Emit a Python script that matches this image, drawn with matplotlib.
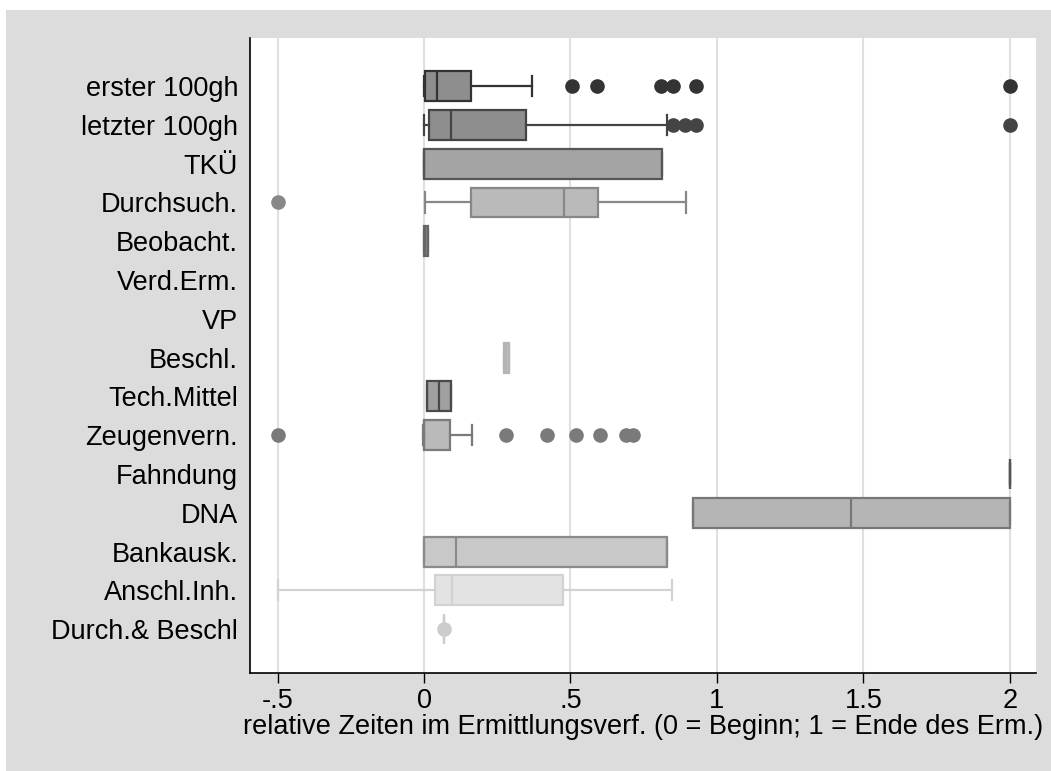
import matplotlib
matplotlib.use('Agg')
import matplotlib.pyplot as plt
from matplotlib.patches import Rectangle

plt.rcParams['font.family'] = ['Liberation Sans', 'DejaVu Sans']

# categories, top to bottom
labels = ['erster 100gh', 'letzter 100gh', 'TKÜ', 'Durchsuch.', 'Beobacht.',
          'Verd.Erm.', 'VP', 'Beschl.', 'Tech.Mittel', 'Zeugenvern.',
          'Fahndung', 'DNA', 'Bankausk.', 'Anschl.Inh.', 'Durch.& Beschl']

# box statistics (None = no data)
whislo = [0.0, 0.0, 0.0, 0.003, 0.0, None, None, 0.273, 0.01, -0.005, 2.0, 0.918, 0.0, -0.5, 0.068]
q1 = [0.003, 0.018, 0.0, 0.16, 0.0, None, None, 0.273, 0.01, 0.0, 2.0, 0.918, 0.0, 0.038, 0.068]
med = [0.045, 0.093, 0.0, 0.478, 0.005, None, None, 0.28, 0.052, 0.0, 2.0, 1.457, 0.108, 0.096, 0.068]
q3 = [0.16, 0.348, 0.813, 0.595, 0.015, None, None, 0.29, 0.093, 0.09, 2.0, 2.0, 0.83, 0.475, 0.068]
whishi = [0.37, 0.83, 0.813, 0.895, 0.015, None, None, 0.29, 0.093, 0.164, 2.0, 2.0, 0.83, 0.848, 0.068]
fliers = [[0.505, 0.59, 0.81, 0.85, 0.93, 2.0],
          [0.85, 0.89, 0.93, 2.0],
          [], [-0.5], [], [], [], [], [],
          [-0.5, 0.28, 0.42, 0.52, 0.60, 0.69, 0.712],
          [], [], [], [], [0.068]]

fills = ['#8e8e8e', '#8e8e8e', '#a4a4a4', '#bababa', '#8a8a8a', None, None, '#c4c4c4',
         '#a0a0a0', '#bababa', '#8e8e8e', '#b5b5b5', '#c8c8c8', '#e3e3e3', '#d0d0d0']
edges = ['#333333', '#444444', '#555555', '#888888', '#666666', None, None, '#b4b4b4',
         '#4a4a4a', '#7a7a7a', '#555555', '#777777', '#8a8a8a', '#d2d2d2', '#cccccc']

xticks = [-0.5, 0, 0.5, 1, 1.5, 2]
xticklabels = ['-.5', '0', '.5', '1', '1.5', '2']

fig = plt.figure(figsize=(10.51, 7.71), dpi=100, facecolor='white')
fig.patches.append(Rectangle((6 / 1051, 0), 1, (771 - 10) / 771, transform=fig.transFigure,
                             facecolor='#dcdcdc', edgecolor='none', zorder=-10))
ax = fig.add_axes([250 / 1051, (771 - 673) / 771, (1036 - 250) / 1051, (673 - 38) / 771])
ax.set_facecolor('white')

for i in range(len(labels)):
    if med[i] is None:
        continue
    st = dict(med=med[i], q1=q1[i], q3=q3[i], whislo=whislo[i], whishi=whishi[i], fliers=fliers[i])
    ec = edges[i]
    ax.bxp([st], positions=[i], widths=0.77, capwidths=0.52, orientation='horizontal',
           patch_artist=True,
           boxprops=dict(facecolor=fills[i], edgecolor=ec, linewidth=1.6),
           medianprops=dict(color=ec, linewidth=1.6),
           whiskerprops=dict(color=ec, linewidth=1.6),
           capprops=dict(color=ec, linewidth=1.6),
           flierprops=dict(marker='o', markerfacecolor=ec, markeredgecolor=ec, markersize=9.5))

ax.set_ylim(15.13, -1.24)
ax.set_xlim(-0.594, 2.089)
ax.set_yticks(range(len(labels)))
ax.set_yticklabels(labels, fontsize=19.5)
ax.tick_params(axis='y', length=0, pad=8.5)
ax.set_xticks(xticks)
ax.set_xticklabels(xticklabels, fontsize=19.5)
ax.tick_params(axis='x', length=7.5, width=1, pad=3)
ax.grid(axis='x', color='#e0e0e0', linewidth=1.5)
ax.set_axisbelow(True)
ax.set_xlabel('relative Zeiten im Ermittlungsverf. (0 = Beginn; 1 = Ende des Erm.)', fontsize=19.5, labelpad=0)
for s in ['top', 'right']:
    ax.spines[s].set_visible(False)
ax.spines['left'].set_linewidth(1.2)
ax.spines['bottom'].set_linewidth(1.2)

fig.savefig('out.png', dpi=100, facecolor=fig.get_facecolor())
